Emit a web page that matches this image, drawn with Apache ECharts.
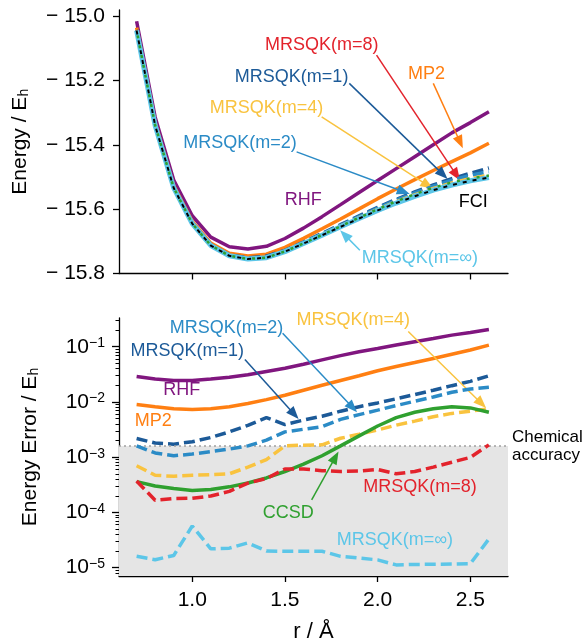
<!DOCTYPE html>
<html>
<head>
<meta charset="utf-8">
<script src="https://cdn.jsdelivr.net/npm/echarts@6.0.0/dist/echarts.min.js"></script>
<style>
html, body { margin: 0; padding: 0; background: #fff; }
#chart { width: 586px; height: 644px; }
</style>
</head>
<body>
<div id="chart"></div>
<script>
// bond length r / Å
const r = [0.7, 0.8, 0.9, 1.0, 1.1, 1.2, 1.3, 1.4, 1.5, 1.6, 1.7, 1.8, 1.9, 2.0, 2.1, 2.2, 2.3, 2.4, 2.5, 2.6]
// FCI energy / Eh
const fci = [-15.045, -15.340, -15.534, -15.645, -15.713, -15.745, -15.755, -15.751, -15.732, -15.707,
  -15.681, -15.655, -15.629, -15.604, -15.581, -15.560, -15.541, -15.525, -15.512, -15.502]
// errors vs FCI / Eh
const errRHF = [0.029, 0.026, 0.0245, 0.0245, 0.026, 0.028, 0.031, 0.0356, 0.0408, 0.048,
  0.0577, 0.069, 0.081, 0.093, 0.107, 0.123, 0.141, 0.162, 0.181, 0.205]
const errMP2 = [0.009, 0.0082, 0.0075, 0.0073, 0.0075, 0.0082, 0.0094, 0.011, 0.0132, 0.0163,
  0.020, 0.0245, 0.0298, 0.0366, 0.0438, 0.0516, 0.061, 0.0728, 0.087, 0.107]
const errCCSD = [0.00036, 0.0003, 0.00027, 0.00025, 0.00026, 0.00029, 0.00034, 0.00042, 0.00055, 0.00075,
  0.00106, 0.0016, 0.00243, 0.00367, 0.0052, 0.0065, 0.0075, 0.0082, 0.0078, 0.0065]
const errM1 = [0.00218, 0.0018, 0.00172, 0.0019, 0.00227, 0.00287, 0.00377, 0.0052, 0.0039, 0.0047,
  0.0055, 0.0068, 0.0082, 0.0096, 0.0114, 0.0136, 0.0163, 0.0197, 0.0236, 0.0298]
const errM2 = [0.0016, 0.00119, 0.00106, 0.00114, 0.00126, 0.0014, 0.0016, 0.00203, 0.00287, 0.0032,
  0.00357, 0.00484, 0.0059, 0.0071, 0.0086, 0.0103, 0.0123, 0.015, 0.0172, 0.0184]
const errM4 = [0.0007, 0.00047, 0.00045, 0.00047, 0.00048, 0.0005, 0.00066, 0.0009, 0.0016, 0.00165,
  0.00167, 0.0022, 0.0026, 0.0031, 0.0038, 0.0045, 0.0054, 0.0062, 0.0068, 0.0075]
const errM8 = [0.00037, 0.000166, 0.000178, 0.00018, 0.000198, 0.00024, 0.00034, 0.00041, 0.00061, 0.00061,
  0.00057, 0.00055, 0.00056, 0.0006, 0.0005, 0.00055, 0.00066, 0.00081, 0.00099, 0.00167]
const errMinf = [1.6e-5, 1.39e-5, 1.66e-5, 5.67e-5, 2.19e-5, 2.25e-5, 2.8e-5, 2.0e-5, 1.98e-5, 1.98e-5,
  1.98e-5, 1.6e-5, 1.49e-5, 1.38e-5, 1.12e-5, 1.14e-5, 1.15e-5, 1.16e-5, 1.18e-5, 3.3e-5]
const chemAcc = 1.594e-3

// ticks
const rTicks = [1.0, 1.5, 2.0, 2.5]
const eTicks = [-15.8, -15.6, -15.4, -15.2, -15.0]
const decTicks = [1e-5, 1e-4, 1e-3, 1e-2, 1e-1]
const minorTicks = [8e-6, 9e-6]
decTicks.forEach(d => { for (let k = 2; k <= 9; k++) if (d * k < 0.33) minorTicks.push(+(d * k).toPrecision(2)) })

const FONT = 'Liberation Sans, Arial, sans-serif'
const C = {
  rhf: '#80167f', mp2: '#ff7f12', m1: '#1c5a98', m2: '#2b8bc6', m4: '#f9c33f',
  m8: '#e3232c', minf: '#5cc6e8', ccsd: '#2fa02f', fci: '#000000'
}
const RMIN = 0.605, RMAX = 2.703
const EMIN = -15.8, EMAX = -14.981
const LMIN = 7.05e-6, LMAX = 0.331

const note = (text, at, color) => ({ name: text, coord: at, label: { color } })
const arrow = (from, to, color) => [{ coord: from, lineStyle: { color } }, { coord: to }]
const marks = (notes, arrows, color) => ({
  markPoint: {
    silent: true, symbol: 'circle', symbolSize: 0, animation: false,
    label: { show: true, position: 'inside', formatter: '{b}', fontSize: 18, fontFamily: FONT },
    data: notes
  },
  markLine: {
    silent: true, animation: false, symbol: ['none', 'triangle'], symbolSize: [10, 13],
    lineStyle: { color, width: 1.5, type: 'solid' }, label: { show: false },
    emphasis: { disabled: true },
    data: arrows
  }
})

// top panel: energies
const energyLine = (name, err, color, width, dash, z, extra) => Object.assign({
  name, type: 'line', xAxisIndex: 0, yAxisIndex: 0, z,
  showSymbol: false, symbol: 'none', silent: true,
  data: r.map((x, i) => [x, +(fci[i] + (err ? err[i] : 0)).toFixed(5)]),
  lineStyle: { color, width, type: dash || 'solid' }
}, extra || {})

// bottom panel: errors
const errorLine = (name, err, color, width, dash, z, extra) => Object.assign({
  name, type: 'line', xAxisIndex: 1, yAxisIndex: 1, z,
  showSymbol: false, symbol: 'none', silent: true,
  data: r.map((x, i) => [x, err[i]]),
  lineStyle: { color, width, type: dash || 'solid' }
}, extra || {})

const DASH = [11, 5]

const series = [
  energyLine('RHF', errRHF, C.rhf, 3.5, null, 2, marks([note('RHF', [1.599, -15.572], C.rhf)], [], C.rhf)),
  energyLine('MP2', errMP2, C.mp2, 3.5, null, 3, marks([note('MP2', [2.264, -15.180], C.mp2)],
    [arrow([2.30, -15.209], [2.445, -15.392], C.mp2)], C.mp2)),
  energyLine('MRSQK(m=1)', errM1, C.m1, 3.5, DASH, 4, marks([note('MRSQK(m=1)', [1.536, -15.189], C.m1)],
    [arrow([1.847, -15.209], [2.352, -15.492], C.m1)], C.m1)),
  energyLine('MRSQK(m=2)', errM2, C.m2, 3.5, DASH, 5, marks([note('MRSQK(m=2)', [1.257, -15.394], C.m2)],
    [arrow([1.563, -15.422], [2.14, -15.546], C.m2)], C.m2)),
  energyLine('MRSQK(m=4)', errM4, C.m4, 3.5, DASH, 6, marks([note('MRSQK(m=4)', [1.401, -15.287], C.m4)],
    [arrow([1.698, -15.313], [2.27, -15.526], C.m4)], C.m4)),
  energyLine('MRSQK(m=8)', errM8, C.m8, 3.5, DASH, 7, marks([note('MRSQK(m=8)', [1.698, -15.090], C.m8)],
    [arrow([1.994, -15.121], [2.425, -15.494], C.m8)], C.m8)),
  energyLine('MRSQK(m=∞)', errMinf, C.minf, 5, null, 8, marks([note('MRSQK(m=∞)', [2.228, -15.753], C.minf)],
    [arrow([1.904, -15.728], [1.822, -15.680], C.minf)], C.minf)),
  energyLine('FCI', null, C.fci, 2, [4, 6], 9, marks([note('FCI', [2.516, -15.577], '#000')], [], '#000')),
  energyLine('CCSD', errCCSD, C.ccsd, 2.5, [3, 7], 10, { lineStyle: { color: C.ccsd, width: 2.5, type: [3, 7], dashOffset: 5 } }),

  // chemical accuracy band
  {
    name: 'chemArea', type: 'line', xAxisIndex: 1, yAxisIndex: 1, z: 1, silent: true,
    showSymbol: false, symbol: 'none', data: [[r[0], chemAcc]], lineStyle: { width: 0 },
    markArea: { silent: true, animation: false, itemStyle: { color: '#e5e5e5' },
      data: [[{ yAxis: LMIN }, { yAxis: chemAcc }]] }
  },
  {
    name: 'chemLine', type: 'line', xAxisIndex: 1, yAxisIndex: 1, z: 1, silent: true, clip: false,
    showSymbol: false, symbol: 'none', data: [[r[0], chemAcc]], lineStyle: { width: 0 },
    markLine: { silent: true, animation: false, symbol: 'none',
      lineStyle: { color: '#a0a0a0', type: [2, 3], width: 1.5 },
      label: { show: true, position: 'end', formatter: 'Chemical\naccuracy', color: '#000',
        fontSize: 17, lineHeight: 18, fontFamily: FONT, distance: 4, padding: [4, 0, 0, 0] },
      data: [[{ coord: [RMIN, chemAcc] }, { coord: [RMAX, chemAcc] }]] }
  },
  errorLine('RHF', errRHF, C.rhf, 3.5, null, 2, marks([note('RHF', [0.943, 0.0164], C.rhf)], [], C.rhf)),
  errorLine('MP2', errMP2, C.mp2, 3.5, null, 3, marks([note('MP2', [0.79, 0.00457], C.mp2)], [], C.mp2)),
  errorLine('MRSQK(m=1)', errM1, C.m1, 3.5, DASH, 4, marks([note('MRSQK(m=1)', [0.973, 0.0824], C.m1)],
    [arrow([1.284, 0.0585], [1.55, 0.0060], C.m1)], C.m1)),
  errorLine('MRSQK(m=2)', errM2, C.m2, 3.5, DASH, 5, marks([note('MRSQK(m=2)', [1.185, 0.216], C.m2)],
    [arrow([1.4875, 0.176], [1.865, 0.0079], C.m2)], C.m2)),
  errorLine('MRSQK(m=4)', errM4, C.m4, 3.5, DASH, 6, marks([note('MRSQK(m=4)', [1.868, 0.305], C.m4)],
    [arrow([2.165, 0.188], [2.56, 0.0094], C.m4)], C.m4)),
  errorLine('CCSD', errCCSD, C.ccsd, 3.5, null, 7, marks([note('CCSD', [1.518, 9.7e-5], C.ccsd)],
    [arrow([1.644, 1.68e-4], [1.772, 1.0e-3], C.ccsd)], C.ccsd)),
  errorLine('MRSQK(m=8)', errM8, C.m8, 3.5, DASH, 8, marks([note('MRSQK(m=8)', [2.228, 2.92e-4], C.m8)], [], C.m8)),
  errorLine('MRSQK(m=∞)', errMinf, C.minf, 3.5, DASH, 9, marks([note('MRSQK(m=∞)', [2.093, 3.22e-5], C.minf)], [], C.minf))
]

const axisLine = { show: true, lineStyle: { color: '#000', width: 1.3 } }
const tickStyle = { color: '#000', width: 1.3 }

const option = {
  animation: false,
  textStyle: { fontFamily: FONT },
  grid: [
    { left: 119, top: 10, width: 389, height: 263.5 },
    { left: 119, top: 318, width: 389, height: 261 }
  ],
  xAxis: [
    {
      type: 'value', gridIndex: 0, min: RMIN, max: RMAX, splitLine: { show: false },
      axisLine, axisTick: { show: true, length: 6, customValues: rTicks, lineStyle: tickStyle },
      axisLabel: { show: false }
    },
    {
      type: 'value', gridIndex: 1, min: RMIN, max: RMAX, splitLine: { show: false },
      axisLine, axisTick: { show: true, length: 6, customValues: rTicks, lineStyle: tickStyle },
      axisLabel: { customValues: rTicks, formatter: v => v.toFixed(1), color: '#000', fontSize: 21, margin: 14, fontFamily: FONT },
      name: 'r / Å', nameLocation: 'middle', nameGap: 45,
      nameTextStyle: { color: '#000', fontSize: 22, fontFamily: FONT }
    }
  ],
  yAxis: [
    {
      type: 'value', gridIndex: 0, min: EMIN, max: EMAX, splitLine: { show: false },
      axisLine, axisTick: { show: true, length: 6, customValues: eTicks, lineStyle: tickStyle },
      axisLabel: { customValues: eTicks, formatter: v => '\u2212 ' + Math.abs(v).toFixed(1),
        color: '#000', fontSize: 21, margin: 14, fontFamily: FONT },
      name: '{a|Energy / E}{s|h}', nameLocation: 'middle', nameGap: 88, nameRotate: 90,
      nameTextStyle: { rich: {
        a: { fontSize: 21, color: '#000', fontFamily: FONT },
        s: { fontSize: 14, color: '#000', fontFamily: FONT, verticalAlign: 'bottom' }
      } }
    },
    {
      type: 'log', logBase: 10, gridIndex: 1, min: LMIN, max: LMAX, splitLine: { show: false },
      axisLine, axisTick: { show: true, length: 7, customValues: decTicks, lineStyle: tickStyle },
      axisLabel: {
        customValues: decTicks, margin: 14,
        formatter: v => '{b|10}{s|\u2212' + Math.round(-Math.log10(v)) + '}',
        rich: {
          b: { fontSize: 21, color: '#000', fontFamily: FONT },
          s: { fontSize: 14, color: '#000', fontFamily: FONT, verticalAlign: 'top' }
        }
      },
      name: '{a|Energy Error / E}{s|h}', nameLocation: 'middle', nameGap: 78, nameRotate: 90,
      nameTextStyle: { rich: {
        a: { fontSize: 21, color: '#000', fontFamily: FONT },
        s: { fontSize: 14, color: '#000', fontFamily: FONT, verticalAlign: 'bottom' }
      } }
    },
    {
      // minor ticks of the log axis
      type: 'log', logBase: 10, gridIndex: 1, min: LMIN, max: LMAX, position: 'left',
      splitLine: { show: false }, axisLine: { show: false },
      axisTick: { show: true, length: 3.5, customValues: minorTicks, lineStyle: { color: '#000', width: 1 } },
      axisLabel: { show: false }
    }
  ],
  series
}

const chart = echarts.init(document.getElementById('chart'))
chart.setOption(option)
</script>
</body>
</html>
